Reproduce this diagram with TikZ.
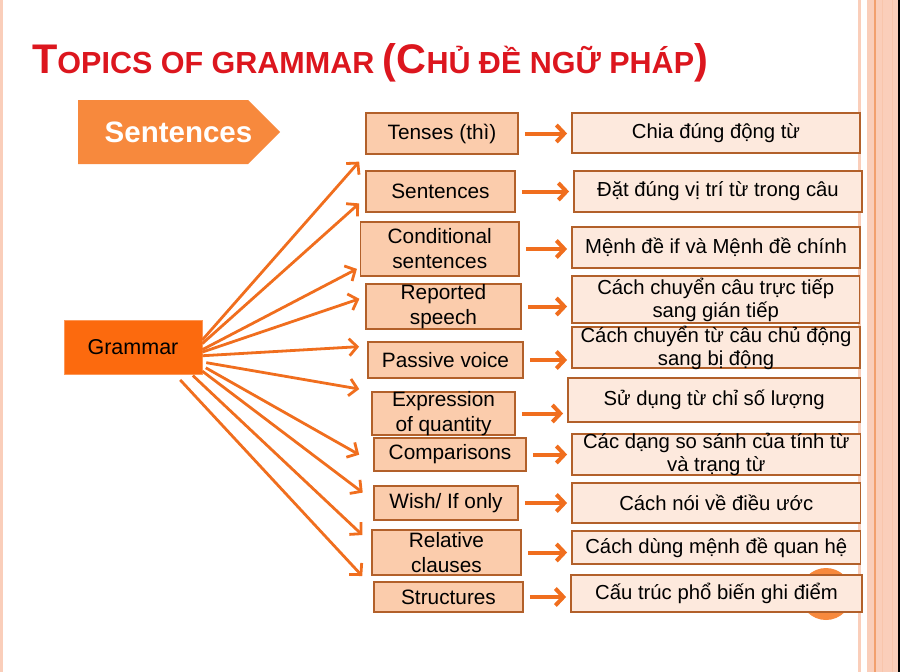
\documentclass[tikz,border=0pt]{standalone}
\usepackage{fontspec}
\setmainfont{Liberation Sans}
\usetikzlibrary{
    arrows.meta,
    positioning
}
\definecolor{titlered}{RGB}{220,22,30}
\definecolor{sentorange}{RGB}{247,137,61}
\definecolor{gramorange}{RGB}{252,106,14}
\definecolor{topicfill}{RGB}{251,204,172}
\definecolor{detailfill}{RGB}{253,233,221}
\definecolor{boxborder}{RGB}{178,96,42}
\definecolor{arroworange}{RGB}{240,110,30}
\definecolor{edgepeach}{RGB}{250,206,186}
\definecolor{bandline}{RGB}{242,160,110}
\newcommand\titlebig{\fontsize{41.4}{42}\selectfont}
\newcommand\titlesmall{\fontsize{30.5}{31}\selectfont}
\tikzset{
    % Colors
    title color/.style={color=titlered},
    nice orange/.style={arroworange},
    %
    % Boxes
    topic box/.style={draw=boxborder,line width=1.8pt,fill=topicfill,inner sep=0pt,font=\fontsize{20.8}{25}\selectfont},
    detail box/.style={draw=boxborder,line width=1.8pt,fill=detailfill,inner sep=0pt,font=\fontsize{20.3}{23}\selectfont},
    topic text/.style={align=center,inner sep=0pt,font=\fontsize{20.8}{25}\selectfont},
    detail text/.style={align=center,inner sep=0pt,font=\fontsize{20.3}{23}\selectfont},
    %
    % Arrows
    fan tip/.tip={Straight Barb[length=8pt,width=17pt]},
    row tip/.tip={Straight Barb[length=8pt,width=17pt]},
    fan arr/.style={->,>={fan tip},nice orange,line width=2.8pt},
    row arr/.style={->,>={row tip},nice orange,line width=4pt,shorten <=6pt,shorten >=4pt}
}

\begin{document}
\begin{tikzpicture}[x=1pt,y=-1pt]
        \useasboundingbox (0,0) rectangle (900,672);
        % page edges
        \fill[edgepeach] (0,0) rectangle (2.5,672);
        \fill[edgepeach] (858,0) rectangle (861,672);
        \fill[edgepeach] (867,0) rectangle (898,672);
        \draw[bandline,line width=1.5pt] (875,0) -- (875,672);
        \draw[edgepeach!80!bandline,line width=1pt] (882,0) -- (882,672);
        \draw[edgepeach!80!bandline,line width=1pt] (892,0) -- (892,672);
        \fill[black] (898,0) rectangle (900,672);
        %
        \node[title color,font=\bfseries,anchor=base west,inner sep=0pt] (title) at (32,73)
            {\titlebig T\titlesmall OPICS OF GRAMMAR \titlebig(C\titlesmall HỦ ĐỀ NGỮ PHÁP\titlebig)};
        \fill[sentorange] (78,100) -- (248,100) -- (280,132) -- (248,164) -- (78,164) -- cycle;
        \node[text=white,font=\bfseries\fontsize{29.5}{30}\selectfont,inner sep=0pt] (sent) at (178.5,132.5) {Sentences};
        \node[fill=gramorange,draw=gramorange!70!white,line width=.6pt,minimum width=138pt,minimum height=54.5pt,
            font=\fontsize{21.5}{22}\selectfont] (gram) at (133,347.25) {Grammar};
        \fill[sentorange] (826,594) circle[radius=26];
        %
        % topics
        \node[topic box,minimum width=152pt,minimum height=41pt] (m1) at (442,133.5) {Tenses (thì)};
        \node[topic box,minimum width=149pt,minimum height=41pt] (m2) at (440.5,191.5) {Sentences};
        \node[topic box,minimum width=158.5pt,minimum height=54pt,label={[topic text]center:Conditional\\sentences}] (m3) at (439.75,249) {};
        \node[topic box,minimum width=155pt,minimum height=45pt,label={[topic text]center:Reported\\speech}] (m4) at (443.5,306.5) {};
        \node[topic box,minimum width=155pt,minimum height=36pt] (m5) at (445.5,360) {Passive voice};
        \node[topic box,minimum width=143pt,minimum height=43pt,label={[topic text]center:Expression\\of quantity}] (m6) at (443.5,413.5) {};
        \node[topic box,minimum width=152pt,minimum height=33pt] (m7) at (450,454.5) {Comparisons};
        \node[topic box,minimum width=144pt,minimum height=34pt] (m8) at (446,503) {Wish/ If only};
        \node[topic box,minimum width=149pt,minimum height=45pt,label={[topic text]center:Relative\\clauses}] (m9) at (446.5,552.5) {};
        \node[topic box,minimum width=149pt,minimum height=30pt] (m10) at (448.5,597) {Structures};
        %
        % details
        \node[detail box,minimum width=288pt,minimum height=40pt] (r1) at (716,133) {Chia đúng động từ};
        \node[detail box,minimum width=288pt,minimum height=41pt] (r2) at (718,191.5) {Đặt đúng vị trí từ trong câu};
        \node[detail box,minimum width=288pt,minimum height=41pt] (r3) at (716,247.5) {Mệnh đề if và Mệnh đề chính};
        \node[detail box,minimum width=287.5pt,minimum height=47pt,label={[detail text]center:Cách chuyển câu trực tiếp\\sang gián tiếp}] (r4) at (715.75,299.5) {};
        \node[detail box,minimum width=288pt,minimum height=41pt,label={[detail text]center:Cách chuyển từ câu chủ động\\sang bị động}] (r5) at (716,347.5) {};
        \node[detail box,minimum width=292.5pt,minimum height=44pt] (r6) at (714.25,400) {Sử dụng từ chỉ số lượng};
        \node[detail box,minimum width=288.5pt,minimum height=41pt,label={[detail text]center:Các dạng so sánh của tính từ\\và trạng từ}] (r7) at (716.25,454.5) {};
        \node[detail box,minimum width=288.5pt,minimum height=40pt] (r8) at (716.25,503) {Cách nói về điều ước};
        \node[detail box,minimum width=288.5pt,minimum height=33pt] (r9) at (716.25,547.5) {Cách dùng mệnh đề quan hệ};
        \node[detail box,minimum width=291pt,minimum height=37pt] (r10) at (716.5,593.5) {Cấu trúc phổ biến ghi điểm};
        %
        % arrows
        \foreach \a/\t/\s/\e in {6/m1.south west/0/9, 3/m2.185/0/8, -2/m3.193/0/3, -4/m4.173/0/6, -7/m5.170/0/8,
                -12/m6.north west/4/12, -15/m7.186/4/16, -19/m8.178/0/13, -25/m9.173/1/12, -33/m10.173/7/16}{
            \draw[fan arr,shorten <=\s pt,shorten >=\e pt] (gram.\a) -- (\t);
        }
        \foreach \i in {1,...,10}{
            \draw[row arr] (m\i.east) -- (m\i.east -| r\i.west);
        }
    \end{tikzpicture}
\end{document}
